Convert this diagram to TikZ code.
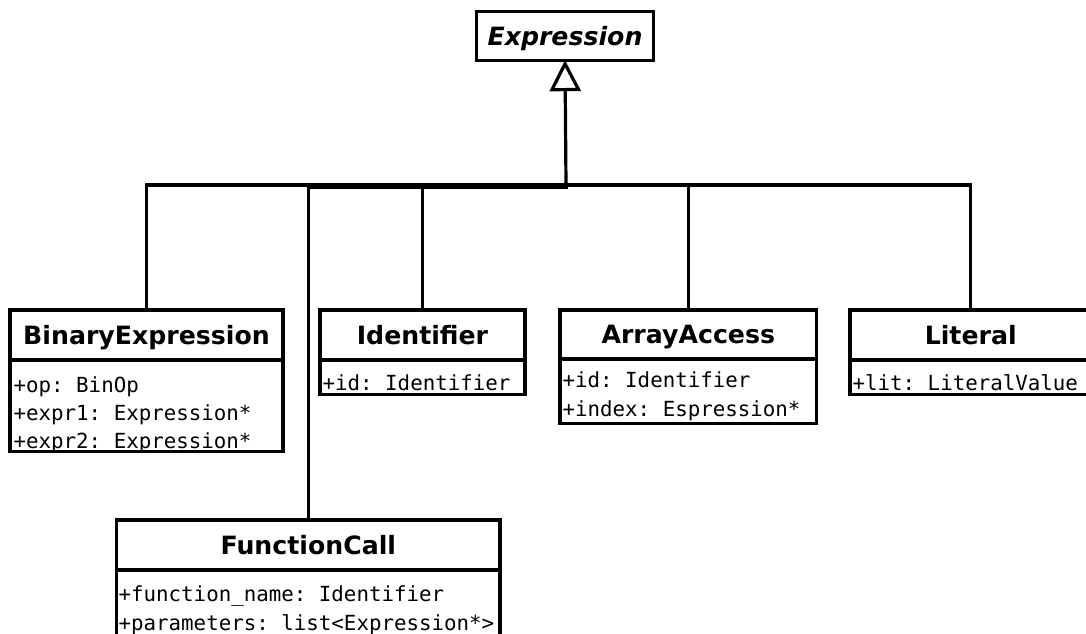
\documentclass[tikz,border=0pt]{standalone}
\usepackage{fontspec}
\setsansfont{DejaVu Sans}
\setmonofont{DejaVu Sans Mono}
\usetikzlibrary{arrows.meta}

\begin{document}
\begin{tikzpicture}[x=0.5pt, y=-0.5pt, line width=1.6pt,
		classhead/.style={draw, rectangle, minimum height=25pt, inner sep=0pt, outer sep=0pt, text height=9pt, text depth=0pt, font=\sffamily\bfseries\fontsize{12.6}{14}\selectfont},
		classattr/.style={draw, rectangle, anchor=north, inner sep=0pt, outer sep=0pt},
		member/.style={anchor=base west, inner sep=0pt, font=\ttfamily\fontsize{10.4}{14}\selectfont},
		inherit/.style={-{Triangle[open, length=15.5pt, width=15.5pt]}}]
			\useasboundingbox (0,0) rectangle (1086,633);
			\node[classhead, minimum width=88.3pt, minimum height=24.2pt, font=\sffamily\bfseries\itshape\fontsize{12.6}{14}\selectfont] (expr)at(565, 36) {Expression};
			\node[classhead, minimum width=136.5pt] (binexp)at(146.5, 335) {BinaryExpression};
			\node[classattr, minimum width=136.5pt, minimum height=45.9pt] (binexp-attr)at(binexp.south) {};
			\node[member] (binexp-op)at(12, 392) {+op: BinOp};
			\node[member] (binexp-e1)at(12, 420) {+expr1: Expression*};
			\node[member] (binexp-e2)at(12, 448) {+expr2: Expression*};
			\node[classhead, minimum width=102.5pt] (ident)at(422.5, 335) {Identifier};
			\node[classattr, minimum width=102.5pt, minimum height=17.2pt] (ident-attr)at(ident.south) {};
			\node[member] (ident-id)at(321, 390.5) {+id: Identifier};
			\node[classhead, minimum width=128.3pt, minimum height=24.5pt] (array)at(688.3, 334.5) {ArrayAccess};
			\node[classattr, minimum width=128.3pt, minimum height=32.2pt] (array-attr)at(array.south) {};
			\node[member] (array-id)at(561, 387) {+id: Identifier};
			\node[member] (array-idx)at(561, 416) {+index: Espression*};
			\node[classhead, minimum width=120.7pt] (lit)at(970.7, 335) {Literal};
			\node[classattr, minimum width=120.7pt, minimum height=17.2pt] (lit-attr)at(lit.south) {};
			\node[member] (lit-val)at(851, 390.5) {+lit: LiteralValue};
			\node[classhead, minimum width=191.7pt] (funcall)at(308.3, 545) {FunctionCall};
			\node[classattr, minimum width=191.7pt, minimum height=36pt] (funcall-attr)at(funcall.south) {};
			\node[member] (funcall-name)at(117, 601.7) {+function\_name: Identifier};
			\node[member] (funcall-par)at(117, 630) {+parameters: list<Expression*>};
			\coordinate (fork)at(566, 185);
			\coordinate (fork2)at(566, 187.5);
			\draw[inherit] (fork) -- (expr.south);
			\draw (binexp.north) |- (fork);
			\draw (ident.north) |- (fork);
			\draw (array.north) |- (fork);
			\draw (lit.north) |- (fork);
			\draw (funcall.north) |- (fork2) -- (fork);
		\end{tikzpicture}
\end{document}
